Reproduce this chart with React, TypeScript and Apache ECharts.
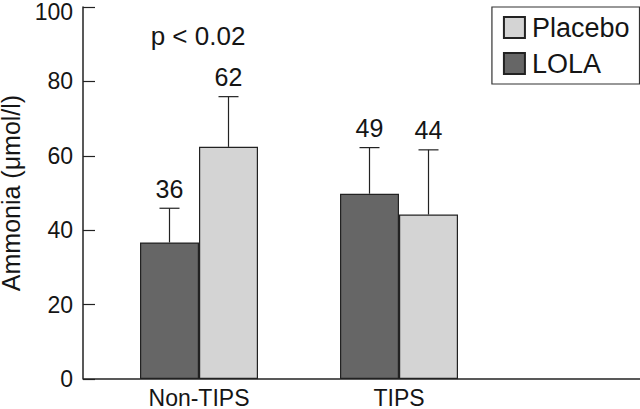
import React, { useEffect, useRef } from "react";
import * as echarts from "echarts";

const categories = ["Non-TIPS", "TIPS"];
const lolaValues = [36.7, 49.8];
const lolaErrTop = [45.9, 62.2];
const lolaLabels = ["36", "49"];
const placeboValues = [62.4, 44.2];
const placeboErrTop = [75.9, 61.6];
const placeboLabels = ["62", "44"];
const yMin = 0;
const yMax = 100;
const yInterval = 20;
const annotation = "p < 0.02";
const yTitle = "Ammonia (\u03bcmol/l)";

const FONT = "'Liberation Sans', Arial, Helvetica, sans-serif";
const INK = "#151515";
const GRID_LEFT = 99;
const GRID_TOP = 7;
const GRID_BOTTOM = 30;
const AXIS_X = 83;
const AXIS_Y = 409 - GRID_BOTTOM;
const BAR_W = 59;

function errorSeries(name: string, values: number[], tops: number[], labels: string[], offset: number) {
  return {
    type: "custom",
    name,
    z: 5,
    data: values.map((v, i) => [i, v, tops[i]]),
    renderItem: (params: any, api: any) => {
      const idx = api.value(0);
      const v = api.value(1);
      const e = api.value(2);
      const base = api.coord([idx, v]);
      const top = api.coord([idx, e]);
      const x = base[0] + offset;
      const st = { stroke: "#222", lineWidth: 1.2 };
      return {
        type: "group",
        children: [
          { type: "line", shape: { x1: x, y1: base[1], x2: x, y2: top[1] }, style: st },
          { type: "line", shape: { x1: x - 10, y1: top[1], x2: x + 10, y2: top[1] }, style: st },
          {
            type: "text",
            x,
            y: top[1] - 7,
            style: {
              text: labels[params.dataIndex],
              textAlign: "center",
              textVerticalAlign: "bottom",
              fontSize: 25,
              fontFamily: FONT,
              fill: INK,
            },
          },
        ],
      };
    },
  };
}

export default function App() {
  const ref = useRef<HTMLDivElement>(null);
  useEffect(() => {
    document.body.style.margin = "0";
    const chart = echarts.init(ref.current!, null, { renderer: "svg" });
    chart.setOption({
      animation: false,
      backgroundColor: "#ffffff",
      textStyle: { fontFamily: FONT },
      grid: {
        left: GRID_LEFT,
        width: 400,
        top: GRID_TOP,
        bottom: GRID_BOTTOM,
        containLabel: false,
        outerBoundsMode: "none",
      },
      legend: {
        data: ["Placebo", "LOLA"],
        orient: "vertical",
        right: 0.5,
        top: GRID_TOP,
        itemWidth: 21,
        itemHeight: 21,
        itemGap: 9,
        padding: [7, 10, 7, 11],
        borderColor: "#333",
        borderWidth: 1.2,
        icon: "rect",
        textStyle: { fontSize: 27, color: INK, fontFamily: FONT, padding: [0, 0, 0, 2] },
      },
      xAxis: {
        type: "category",
        data: categories,
        axisLine: { show: false },
        axisTick: { show: false },
        axisLabel: { fontSize: 23, color: INK, margin: 7, fontFamily: FONT },
      },
      yAxis: {
        type: "value",
        min: yMin,
        max: yMax,
        interval: yInterval,
        offset: GRID_LEFT - AXIS_X,
        name: yTitle,
        nameLocation: "middle",
        nameRotate: 90,
        nameGap: 54,
        nameTextStyle: { fontSize: 25, color: INK, fontFamily: FONT },
        axisLine: { show: true, lineStyle: { color: "#222", width: 1.5 } },
        axisTick: { show: true, inside: true, length: 12, lineStyle: { color: "#222", width: 1.2 } },
        axisLabel: {
          fontSize: 23,
          color: INK,
          margin: 10,
          fontFamily: FONT,
          formatter: (v: number) => (v === yMax ? `{t|${v}}` : `${v}`),
          rich: { t: { fontSize: 23, color: INK, fontFamily: FONT, padding: [9, 0, 0, 0] } },
        },
        splitLine: { show: false },
      },
      graphic: [
        {
          type: "line",
          z: 100,
          shape: { x1: AXIS_X, y1: AXIS_Y, x2: 640, y2: AXIS_Y },
          style: { stroke: "#222", lineWidth: 1.5 },
        },
        {
          type: "text",
          x: 198,
          y: 36,
          style: {
            text: annotation,
            textAlign: "center",
            textVerticalAlign: "middle",
            fontSize: 26,
            fontFamily: FONT,
            fill: INK,
          },
        },
      ],
      series: [
        {
          type: "bar",
          name: "LOLA",
          data: lolaValues,
          barWidth: BAR_W,
          barGap: "0%",
          itemStyle: { color: "#666666", borderColor: "#222", borderWidth: 1.2 },
        },
        {
          type: "bar",
          name: "Placebo",
          data: placeboValues,
          barWidth: BAR_W,
          barGap: "0%",
          itemStyle: { color: "#d4d4d4", borderColor: "#222", borderWidth: 1.2 },
        },
        errorSeries("LOLA error", lolaValues, lolaErrTop, lolaLabels, -BAR_W / 2),
        errorSeries("Placebo error", placeboValues, placeboErrTop, placeboLabels, BAR_W / 2),
      ],
    });
    return () => chart.dispose();
  }, []);
  return <div ref={ref} style={{ width: 640, height: 409 }} />;
}
